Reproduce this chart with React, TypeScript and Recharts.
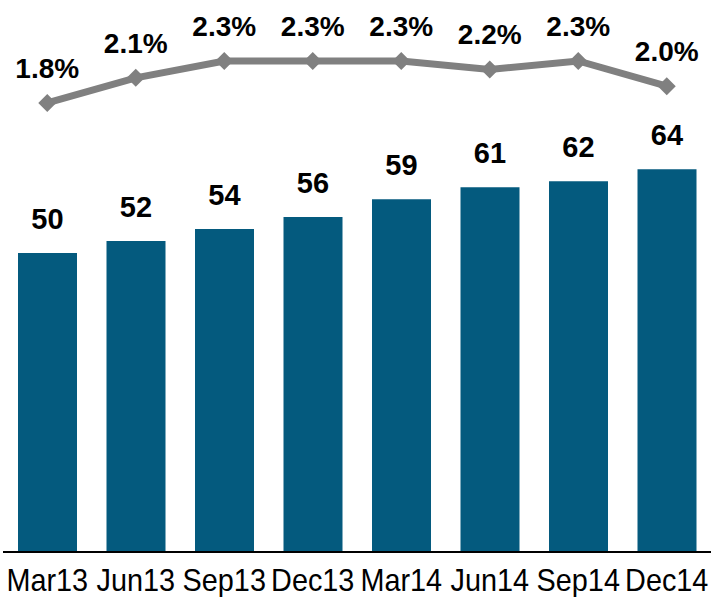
import { ComposedChart, Bar, Line, XAxis, YAxis, LabelList } from 'recharts';

const quarters = ['Mar13', 'Jun13', 'Sep13', 'Dec13', 'Mar14', 'Jun14', 'Sep14', 'Dec14'];
const balances = [50, 52, 54, 56, 59, 61, 62, 64];
const shares = [1.8, 2.1, 2.3, 2.3, 2.3, 2.2, 2.3, 2.0];

const data = quarters.map((q, i) => ({ quarter: q, balance: balances[i], share: shares[i] }));

const FONT = '"Liberation Sans", Arial, sans-serif';

const Diamond = (props: any) => {
  const { cx, cy } = props;
  if (cx == null || cy == null) return null;
  const r = 9;
  return (
    <path
      d={`M${cx},${cy - r} L${cx + r},${cy} L${cx},${cy + r} L${cx - r},${cy} Z`}
      fill="#808080"
    />
  );
};

// condensed category label, like the narrow font in the original
const QuarterTick = (props: any) => {
  const { x, y, payload } = props;
  return (
    <g transform={`translate(${x},${y}) scale(0.93,1)`}>
      <text x={0} y={0} dy="0.71em" textAnchor="middle" fill="#000" fontSize={31} fontFamily={FONT}>
        {payload.value}
      </text>
    </g>
  );
};

export default function App() {
  return (
    <div style={{ position: 'absolute', left: 0, top: 0, width: 711, height: 597, background: '#fff' }}>
      <ComposedChart
        width={711}
        height={597}
        data={data}
        margin={{ top: 0, right: 0, bottom: 0, left: 3 }}
        barSize={59}
      >
        <XAxis
          dataKey="quarter"
          height={45}
          tickLine={false}
          tickSize={0}
          tickMargin={17}
          axisLine={{ stroke: '#000', strokeWidth: 2 }}
          interval={0}
          tick={<QuarterTick />}
        />
        <YAxis yAxisId="bar" hide domain={[0, 92.3]} />
        <YAxis yAxisId="line" hide orientation="right" domain={[-3.545, 3.026]} allowDataOverflow />
        <Bar yAxisId="bar" dataKey="balance" fill="#045a7e" isAnimationActive={false}>
          <LabelList
            dataKey="balance"
            position="top"
            offset={24}
            fill="#000"
            fontSize={29}
            fontWeight="bold"
            fontFamily={FONT}
          />
        </Bar>
        <Line
          yAxisId="line"
          dataKey="share"
          stroke="#808080"
          strokeWidth={7}
          dot={<Diamond />}
          activeDot={false}
          isAnimationActive={false}
        >
          <LabelList
            dataKey="share"
            position="top"
            offset={25}
            fill="#000"
            fontSize={28}
            fontWeight="bold"
            fontFamily={FONT}
            formatter={(v: any) => `${Number(v).toFixed(1)}%`}
          />
        </Line>
      </ComposedChart>
    </div>
  );
}
